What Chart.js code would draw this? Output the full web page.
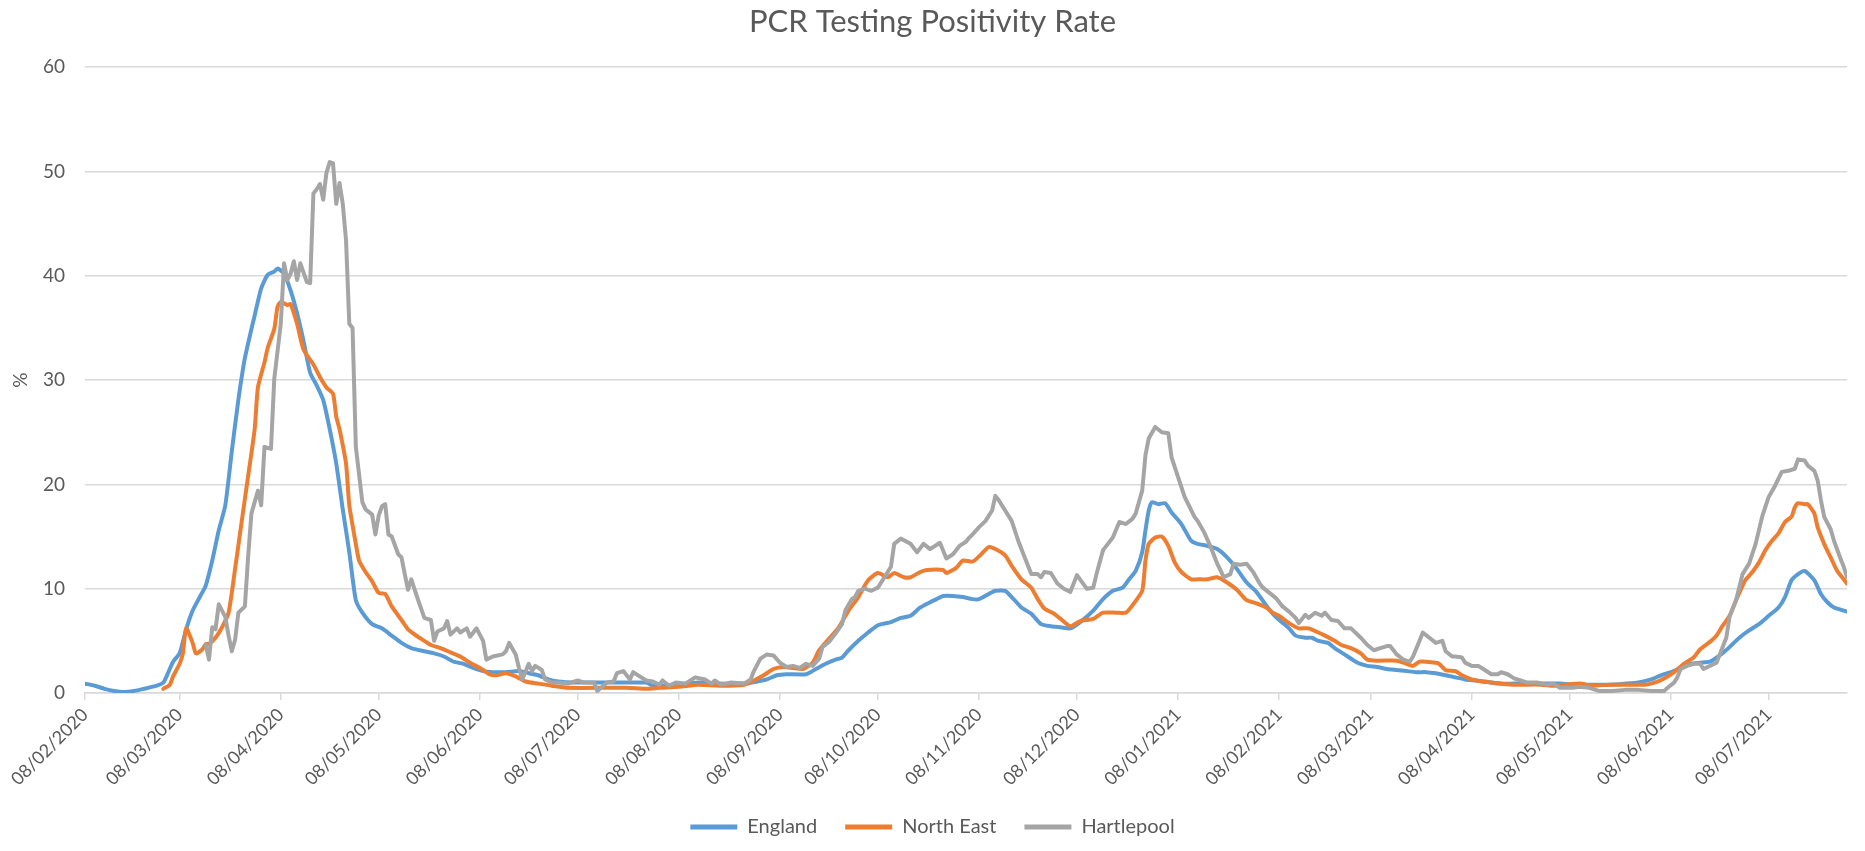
<!DOCTYPE html>
<html>
<head>
<meta charset="utf-8">
<title>PCR Testing Positivity Rate</title>
<script src="https://cdn.jsdelivr.net/npm/chart.js@4.4.1/dist/chart.umd.min.js"></script>
<style>
  html, body { margin: 0; padding: 0; background: #ffffff; }
  #wrap { width: 1865px; height: 851px; }
</style>
</head>
<body>
<div id="wrap"><canvas id="positivityChart" width="1865" height="851"></canvas></div>
<script>
// x values are days counted from 08/02/2020
const startDate = '08/02/2020';
const lastDay = 540;

const tickLabels = [
    '08/02/2020', '08/03/2020', '08/04/2020', '08/05/2020', '08/06/2020', '08/07/2020',
    '08/08/2020', '08/09/2020', '08/10/2020', '08/11/2020', '08/12/2020', '08/01/2021',
    '08/02/2021', '08/03/2021', '08/04/2021', '08/05/2021', '08/06/2021', '08/07/2021'
];

const englandDays = [
    0, 3, 6, 9, 12, 15, 18, 22, 24, 25,
    27, 29, 31, 33, 35, 37, 39, 41, 43, 45,
    47, 49, 52, 54, 56, 58, 59, 61, 63, 65,
    67, 69, 71, 73, 75, 77, 79, 81, 83, 85,
    88, 91, 94, 97, 100, 104, 107, 110, 113, 116,
    119, 122, 125, 129, 133, 136, 139, 142, 145, 150,
    156, 168, 172, 174, 178, 182, 188, 194, 202, 206,
    209, 212, 215, 221, 224, 227, 230, 232, 234, 237,
    240, 243, 247, 250, 253, 256, 259, 261, 263, 266,
    269, 272, 274, 277, 279, 282, 284, 287, 290, 293,
    296, 299, 302, 305, 309, 312, 315, 318, 320, 322,
    324, 325, 326, 327, 329, 331, 333, 336, 339, 341,
    344, 347, 350, 353, 356, 359, 362, 364, 366, 369,
    371, 374, 376, 378, 381, 383, 386, 390, 393, 396,
    399, 402, 405, 408, 411, 414, 417, 420, 423, 426,
    429, 433, 438, 447, 452, 457, 462, 467, 472, 476,
    480, 483, 486, 489, 492, 495, 498, 501, 504, 507,
    510, 513, 516, 519, 521, 523, 525, 527, 530, 532,
    534, 536, 538, 540
];
const englandValues = [
    0.9, 0.7, 0.4, 0.2, 0.1, 0.2, 0.4, 0.7, 1.0, 1.6,
    3.0, 3.8, 6.1, 7.9, 9.1, 10.3, 12.7, 15.6, 18.0, 23.2,
    28.1, 32.1, 36.2, 38.8, 40.1, 40.4, 40.7, 40.2, 38.6, 36.4,
    33.7, 30.7, 29.5, 28.1, 25.3, 22.0, 17.6, 13.5, 8.9, 7.7,
    6.6, 6.2, 5.5, 4.8, 4.3, 4.0, 3.8, 3.5, 3.0, 2.8,
    2.4, 2.1, 2.0, 2.0, 2.1, 1.9, 1.7, 1.3, 1.1, 1.0,
    1.0, 1.0, 1.0, 0.7, 0.7, 0.8, 1.0, 0.9, 0.9, 1.1,
    1.3, 1.7, 1.8, 1.8, 2.3, 2.8, 3.2, 3.4, 4.1, 5.0,
    5.8, 6.5, 6.8, 7.2, 7.4, 8.2, 8.7, 9.0, 9.3, 9.3,
    9.2, 9.0, 9.0, 9.5, 9.8, 9.8, 9.2, 8.2, 7.6, 6.6,
    6.4, 6.3, 6.2, 6.8, 7.9, 9.0, 9.8, 10.1, 10.9, 11.7,
    13.5, 15.6, 17.5, 18.3, 18.1, 18.2, 17.3, 16.2, 14.6, 14.3,
    14.1, 13.8, 13.0, 11.9, 10.6, 9.7, 8.4, 7.6, 7.0, 6.2,
    5.5, 5.3, 5.3, 5.0, 4.8, 4.3, 3.7, 2.9, 2.6, 2.5,
    2.3, 2.2, 2.1, 2.0, 2.0, 1.9, 1.7, 1.5, 1.3, 1.2,
    1.1, 0.9, 0.9, 0.9, 0.9, 0.8, 0.8, 0.8, 0.9, 1.0,
    1.3, 1.7, 2.0, 2.4, 2.8, 2.9, 3.0, 3.6, 4.4, 5.3,
    6.0, 6.6, 7.4, 8.2, 9.2, 10.8, 11.4, 11.7, 10.8, 9.5,
    8.7, 8.2, 8.0, 7.8
];

const northEastDays = [
    24, 26, 27, 29, 30, 31, 33, 34, 36, 37,
    38, 40, 42, 44, 46, 48, 50, 52, 53, 55,
    56, 58, 59, 60, 62, 63, 65, 67, 70, 72,
    74, 76, 77, 78, 80, 81, 83, 84, 86, 88,
    90, 92, 94, 97, 99, 102, 104, 106, 109, 112,
    115, 118, 121, 124, 126, 129, 132, 135, 139, 143,
    148, 166, 172, 176, 182, 188, 195, 202, 205, 208,
    211, 214, 217, 220, 223, 225, 228, 231, 234, 237,
    240, 243, 246, 248, 251, 253, 256, 258, 263, 264,
    267, 269, 272, 274, 277, 279, 282, 284, 287, 290,
    292, 294, 297, 299, 302, 305, 309, 312, 316, 319,
    321, 324, 325, 326, 328, 330, 332, 334, 336, 339,
    341, 344, 347, 350, 353, 356, 359, 362, 364, 366,
    369, 372, 375, 378, 380, 383, 385, 388, 391, 393,
    396, 402, 405, 407, 409, 411, 414, 415, 417, 420,
    422, 425, 428, 431, 434, 438, 446, 450, 454, 458,
    462, 467, 478, 481, 484, 487, 490, 493, 495, 498,
    500, 502, 504, 506, 508, 509, 511, 513, 515, 517,
    519, 521, 523, 524, 525, 527, 528, 530, 531, 533,
    535, 537, 539, 540
];
const northEastValues = [
    0.4, 0.8, 1.6, 2.8, 3.8, 6.2, 4.8, 3.8, 4.2, 4.7,
    4.7, 5.3, 6.3, 7.7, 11.9, 16.4, 20.8, 25.3, 29.3, 31.7,
    33.1, 34.9, 37.0, 37.5, 37.2, 37.3, 35.4, 32.9, 31.5, 30.3,
    29.3, 28.7, 26.5, 25.3, 22.0, 18.0, 14.3, 12.7, 11.6, 10.7,
    9.6, 9.5, 8.3, 7.0, 6.1, 5.4, 5.0, 4.6, 4.3, 3.9,
    3.5, 2.9, 2.4, 1.8, 1.7, 1.9, 1.6, 1.1, 0.9, 0.7,
    0.5, 0.5, 0.4, 0.5, 0.6, 0.8, 0.7, 0.8, 1.2, 1.7,
    2.3, 2.5, 2.4, 2.3, 2.9, 4.1, 5.2, 6.3, 7.9, 9.2,
    10.8, 11.5, 11.1, 11.5, 11.1, 11.1, 11.6, 11.8, 11.8, 11.5,
    12.0, 12.7, 12.6, 13.1, 14.0, 13.8, 13.2, 12.2, 10.9, 10.1,
    9.0, 8.1, 7.6, 7.1, 6.4, 6.9, 7.1, 7.7, 7.7, 7.7,
    8.4, 9.8, 12.7, 14.3, 14.9, 15.0, 14.1, 12.5, 11.6, 10.9,
    10.9, 10.9, 11.1, 10.6, 9.9, 8.9, 8.6, 8.2, 7.7, 7.4,
    6.7, 6.2, 6.2, 5.8, 5.5, 5.0, 4.6, 4.3, 3.8, 3.2,
    3.1, 3.1, 2.8, 2.6, 3.0, 3.0, 2.9, 2.8, 2.2, 2.1,
    1.7, 1.3, 1.1, 1.0, 0.9, 0.8, 0.8, 0.7, 0.8, 0.9,
    0.7, 0.8, 0.8, 1.0, 1.4, 2.0, 2.8, 3.4, 4.2, 4.9,
    5.5, 6.5, 7.4, 8.9, 10.3, 10.9, 11.6, 12.5, 13.7, 14.6,
    15.3, 16.4, 16.9, 17.8, 18.2, 18.1, 18.1, 17.2, 15.9, 14.3,
    13.0, 11.7, 10.9, 10.5
];

const hartlepoolDays = [
    37, 38, 39, 40, 41, 43, 44, 45, 46, 47,
    49, 50, 51, 53, 54, 55, 57, 58, 60, 61,
    62, 63, 64, 65, 66, 68, 69, 70, 71, 72,
    73, 74, 75, 76, 77, 78, 79, 80, 81, 82,
    83, 85, 86, 88, 89, 90, 91, 92, 93, 94,
    96, 97, 98, 99, 100, 102, 104, 106, 107, 108,
    110, 111, 112, 114, 115, 117, 118, 120, 122, 123,
    125, 128, 129, 130, 132, 133, 134, 136, 137, 138,
    140, 141, 143, 145, 148, 151, 153, 156, 157, 160,
    162, 163, 165, 167, 168, 170, 172, 174, 176, 177,
    179, 181, 184, 187, 190, 192, 193, 195, 198, 202,
    204, 205, 207, 209, 211, 213, 215, 217, 219, 221,
    223, 225, 226, 228, 230, 232, 233, 235, 236, 237,
    239, 241, 243, 245, 247, 248, 250, 253, 255, 257,
    259, 262, 264, 266, 268, 270, 271, 272, 274, 276,
    278, 279, 280, 282, 284, 286, 288, 290, 292, 293,
    294, 296, 298, 300, 302, 304, 307, 309, 310, 312,
    315, 317, 319, 321, 322, 324, 325, 326, 328, 330,
    332, 333, 335, 337, 340, 341, 343, 345, 347, 349,
    351, 352, 354, 356, 358, 360, 361, 363, 365, 367,
    369, 371, 372, 374, 375, 377, 379, 380, 382, 384,
    386, 388, 391, 393, 395, 397, 399, 400, 402, 404,
    406, 407, 409, 410, 412, 414, 416, 417, 419, 420,
    422, 423, 425, 427, 429, 431, 433, 434, 436, 438,
    440, 442, 445, 448, 450, 452, 454, 456, 458, 461,
    464, 468, 472, 476, 480, 484, 485, 487, 488, 489,
    491, 493, 495, 496, 498, 500, 501, 503, 504, 506,
    508, 510, 512, 514, 516, 518, 520, 522, 524, 525,
    527, 528, 530, 531, 532, 533, 535, 536, 538, 539,
    540
];
const hartlepoolValues = [
    4.6, 3.2, 6.3, 6.1, 8.5, 7.3, 5.5, 4.0, 5.1, 7.7,
    8.3, 13.1, 17.2, 19.4, 18.0, 23.6, 23.4, 30.1, 35.4, 41.2,
    39.6, 40.2, 41.4, 39.6, 41.2, 39.4, 39.3, 47.9, 48.3, 48.8,
    47.3, 49.9, 50.9, 50.8, 46.9, 48.9, 46.9, 43.4, 35.4, 35.0,
    23.6, 18.3, 17.6, 17.1, 15.2, 17.0, 17.9, 18.1, 15.2, 15.0,
    13.3, 13.0, 11.4, 9.9, 10.9, 9.0, 7.2, 7.0, 5.0, 5.9,
    6.2, 6.9, 5.6, 6.2, 5.8, 6.2, 5.4, 6.2, 5.0, 3.2,
    3.5, 3.7, 4.0, 4.8, 3.7, 2.4, 1.3, 2.8, 2.1, 2.6,
    2.2, 1.3, 1.0, 1.0, 0.9, 1.2, 1.0, 1.0, 0.2, 1.0,
    1.1, 1.9, 2.1, 1.3, 2.0, 1.6, 1.2, 1.1, 0.8, 1.2,
    0.7, 1.0, 0.9, 1.5, 1.3, 0.9, 1.2, 0.8, 1.0, 0.9,
    1.3, 2.1, 3.3, 3.7, 3.6, 2.9, 2.5, 2.6, 2.4, 2.8,
    2.6, 3.3, 4.4, 4.9, 5.7, 6.6, 7.9, 9.0, 9.2, 9.8,
    10.0, 9.8, 10.1, 11.1, 12.1, 14.3, 14.8, 14.3, 13.5, 14.3,
    13.8, 14.4, 12.9, 13.3, 14.1, 14.5, 14.9, 15.2, 15.9, 16.5,
    17.5, 18.9, 18.5, 17.5, 16.5, 14.6, 13.0, 11.4, 11.4, 11.1,
    11.6, 11.5, 10.5, 10.0, 9.7, 11.3, 10.0, 10.1, 11.4, 13.7,
    14.9, 16.4, 16.2, 16.7, 17.2, 19.4, 22.8, 24.4, 25.5, 25.0,
    24.9, 22.6, 20.7, 18.8, 16.9, 16.5, 15.4, 14.0, 12.4, 11.1,
    11.4, 12.4, 12.3, 12.4, 11.6, 10.5, 10.1, 9.6, 9.1, 8.3,
    7.8, 7.2, 6.7, 7.5, 7.2, 7.7, 7.4, 7.7, 7.0, 6.9,
    6.2, 6.2, 5.3, 4.6, 4.1, 4.3, 4.5, 4.5, 3.7, 3.2,
    3.0, 3.5, 5.0, 5.8, 5.3, 4.8, 5.0, 4.0, 3.5, 3.5,
    3.4, 2.9, 2.6, 2.6, 2.2, 1.8, 1.8, 2.0, 1.8, 1.4,
    1.2, 1.0, 1.0, 0.8, 0.9, 0.5, 0.5, 0.5, 0.6, 0.5,
    0.2, 0.2, 0.3, 0.3, 0.2, 0.2, 0.5, 1.0, 1.5, 2.3,
    2.6, 2.8, 2.8, 2.3, 2.6, 2.9, 3.7, 5.3, 7.3, 8.9,
    11.4, 12.4, 14.3, 16.9, 18.8, 19.9, 21.2, 21.3, 21.5, 22.4,
    22.3, 21.8, 21.3, 20.4, 18.5, 16.9, 15.7, 14.6, 12.9, 12.1,
    11.1
];

const textColor = '#595959';
const gridColor = '#d9d9d9';

Chart.defaults.font.family = 'Lato';
Chart.defaults.color = textColor;

function dayNumber(label) {
    const [d, m, y] = label.split('/').map(Number);
    const [d0, m0, y0] = startDate.split('/').map(Number);
    return (Date.UTC(y, m - 1, d) - Date.UTC(y0, m0 - 1, d0)) / 86400000;
}

const tickDays = tickLabels.map(dayNumber);

function toPoints(days, values) {
    return days.map((day, i) => ({ x: day, y: values[i] }));
}

const ctx = document.getElementById('positivityChart').getContext('2d');
const positivityChart = new Chart(ctx, {
    type: 'line',
    data: {
        datasets: [
            {
                label: 'England',
                data: toPoints(englandDays, englandValues),
                borderColor: '#5b9bd5',
                backgroundColor: '#5b9bd5',
                tension: 0.2,
                order: 3
            },
            {
                label: 'North East',
                data: toPoints(northEastDays, northEastValues),
                borderColor: '#ed7d31',
                backgroundColor: '#ed7d31',
                tension: 0.2,
                order: 2
            },
            {
                label: 'Hartlepool',
                data: toPoints(hartlepoolDays, hartlepoolValues),
                borderColor: '#a5a5a5',
                backgroundColor: '#a5a5a5',
                tension: 0,
                order: 1
            }
        ]
    },
    options: {
        responsive: false,
        animation: false,
        devicePixelRatio: 1,
        elements: {
            point: { radius: 0 },
            line: { borderWidth: 4, borderCapStyle: 'round', borderJoinStyle: 'round' }
        },
        layout: {
            padding: { left: 18, right: 18, top: 0, bottom: 4 }
        },
        plugins: {
            title: {
                display: true,
                text: 'PCR Testing Positivity Rate',
                color: textColor,
                font: { size: 31, weight: 'normal' },
                padding: { top: 3, bottom: 27 }
            },
            legend: {
                position: 'bottom',
                labels: {
                    usePointStyle: true,
                    pointStyle: 'line',
                    pointStyleWidth: 47,
                    padding: 28,
                    color: textColor,
                    font: { size: 20 },
                    sort: (a, b) => a.datasetIndex - b.datasetIndex,
                    generateLabels: chart => {
                        const items = Chart.defaults.plugins.legend.labels.generateLabels(chart);
                        items.forEach(item => {
                            item.lineWidth = 5;
                            item.lineCap = 'butt';
                        });
                        return items;
                    }
                }
            },
            tooltip: { enabled: false }
        },
        scales: {
            x: {
                type: 'linear',
                min: 0,
                max: lastDay,
                afterBuildTicks: scale => {
                    scale.ticks = tickDays.map(v => ({ value: v }));
                },
                afterFit: scale => {
                    scale.height = 96;
                },
                ticks: {
                    autoSkip: false,
                    minRotation: 45,
                    maxRotation: 45,
                    padding: 4,
                    color: textColor,
                    font: { size: 18 },
                    callback: (value, index) => tickLabels[index]
                },
                grid: {
                    drawOnChartArea: false,
                    drawTicks: true,
                    tickLength: 7,
                    color: gridColor,
                    lineWidth: 1.5
                },
                border: { color: gridColor, width: 1.5 }
            },
            y: {
                min: 0,
                max: 60,
                afterFit: scale => {
                    scale.width = 67;
                },
                ticks: {
                    stepSize: 10,
                    padding: 20,
                    color: textColor,
                    font: { size: 19 }
                },
                grid: {
                    color: gridColor,
                    lineWidth: 1.5,
                    drawTicks: false
                },
                border: { display: false },
                title: {
                    display: true,
                    text: '%',
                    color: textColor,
                    font: { size: 19 },
                    padding: { top: -9, bottom: 0 }
                }
            }
        }
    }
});
</script>
</body>
</html>
